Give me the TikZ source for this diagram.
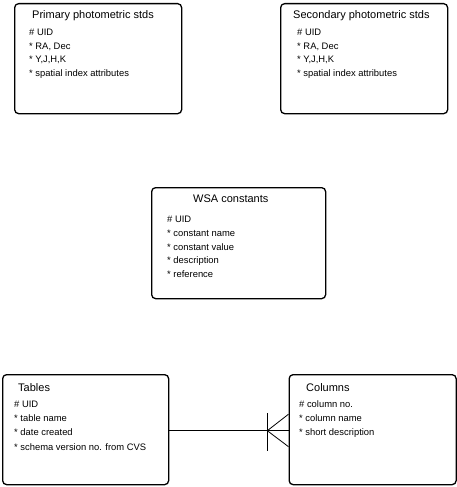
\documentclass[tikz,border=0pt]{standalone}
\usepackage{fontspec}
\setmainfont{Liberation Sans}
\usetikzlibrary{calc}

\begin{document}
\begin{tikzpicture}[x=1pt,y=-1pt,
  entity/.style={draw,line width=1.3pt,rounded corners=4pt,inner sep=0pt,anchor=north west},
  enttitle/.style={anchor=base west,inner sep=0pt,font=\fontsize{11}{13}\selectfont},
  attr/.style={anchor=base west,inner sep=0pt,font=\fontsize{9.4}{11}\selectfont},
  rel/.style={line width=0.8pt}]
\useasboundingbox (0,0) rectangle (457,487);
% entity boxes
\node[entity,minimum width=167pt,minimum height=110pt] (prim) at (14,3) {};
\node[entity,minimum width=167pt,minimum height=110pt] (sec) at (280,3) {};
\node[entity,minimum width=174pt,minimum height=111pt] (wsac) at (151,187) {};
\node[entity,minimum width=166pt,minimum height=110pt] (tabl) at (2,374) {};
\node[entity,minimum width=167pt,minimum height=110pt] (cols) at (288.5,374) {};
% titles
\node[enttitle] (primT) at (32,18.5) {Primary photometric stds};
\node[enttitle] (secT) at (293,18.5) {Secondary photometric stds};
\node[enttitle] (wsacT) at (193,202.3) {WSA constants};
\node[enttitle] (tablT) at (18,391.7) {Tables};
\node[enttitle] (colsT) at (306,391.7) {Columns};
% attributes
\foreach \t [count=\i from 0] in {\# UID, {* RA, Dec}, {* Y,J,H,K}, * spatial index attributes} {
 \node[attr] (prim-\i) at (29,35.5+13.7*\i) {\t};
 \node[attr] (sec-\i) at (297,35.5+13.7*\i) {\t};
}
\foreach \t [count=\i from 0] in {\# UID, * constant name, * constant value, * description, * reference}
 \node[attr] (wsac-\i) at (167,222.3+13.85*\i) {\t};
\foreach \t [count=\i from 0] in {\# UID, * table name, * date created, * schema version no. from CVS}
 \node[attr] (tabl-\i) at (14,407.7+14.1*\i) {\t};
\foreach \t [count=\i from 0] in {\# column no., * column name, * short description}
 \node[attr] (cols-\i) at (299,407.7+13.7*\i) {\t};
% relationship with crow's foot
\coordinate (cf) at (267.3,430.7);
\draw[rel] (tabl.east |- cf) -- (cols.west |- cf);
\draw[rel] ($(cf)+(0,-17.5)$) -- ($(cf)+(0,20.5)$);
\draw[rel] ($(cols.west |- cf)+(0,-16.5)$) -- (cf) -- ($(cols.west |- cf)+(0,16)$);
\end{tikzpicture}
\end{document}
